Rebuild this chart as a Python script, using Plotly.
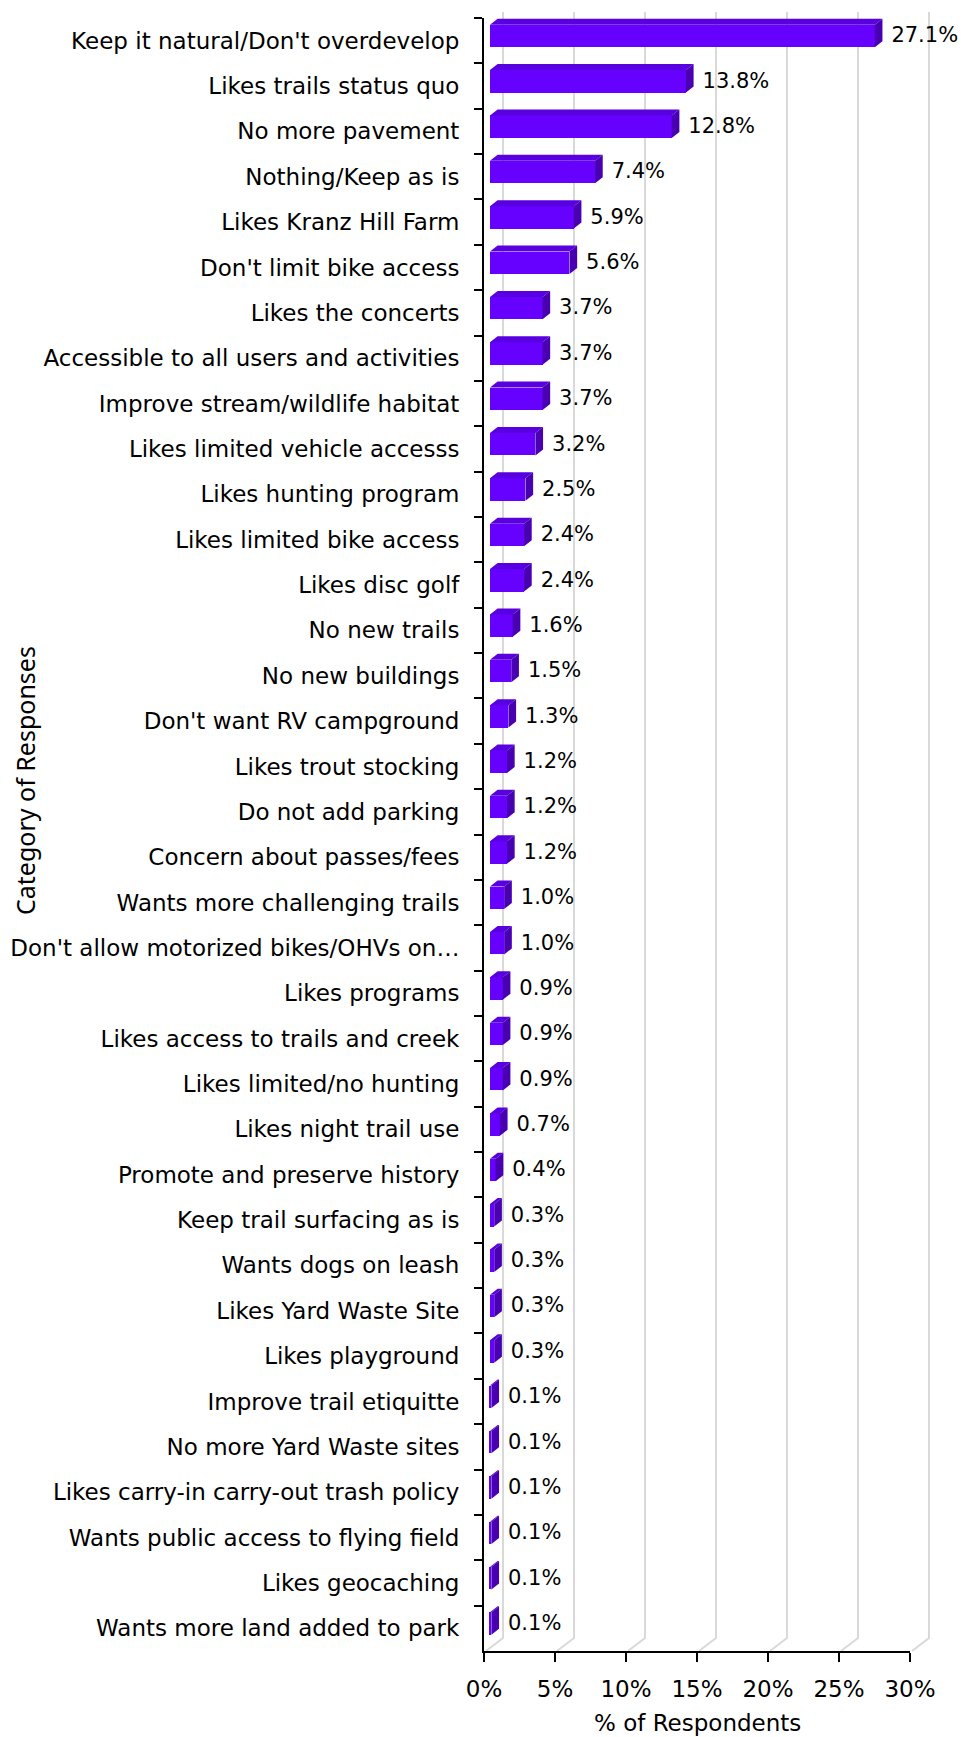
import plotly.graph_objects as go

categories = [
    "Keep it natural/Don't overdevelop", "Likes trails status quo", "No more pavement",
    "Nothing/Keep as is", "Likes Kranz Hill Farm", "Don't limit bike access",
    "Likes the concerts", "Accessible to all users and activities",
    "Improve stream/wildlife habitat", "Likes limited vehicle accesss",
    "Likes hunting program", "Likes limited bike access", "Likes disc golf",
    "No new trails", "No new buildings", "Don't want RV campground",
    "Likes trout stocking", "Do not add parking", "Concern about passes/fees",
    "Wants more challenging trails", "Don't allow motorized bikes/OHVs on…",
    "Likes programs", "Likes access to trails and creek", "Likes limited/no hunting",
    "Likes night trail use", "Promote and preserve history", "Keep trail surfacing as is",
    "Wants dogs on leash", "Likes Yard Waste Site", "Likes playground",
    "Improve trail etiquitte", "No more Yard Waste sites",
    "Likes carry-in carry-out trash policy", "Wants public access to flying field",
    "Likes geocaching", "Wants more land added to park",
]
values = [27.1, 13.8, 12.8, 7.4, 5.9, 5.6, 3.7, 3.7, 3.7, 3.2, 2.5, 2.4, 2.4, 1.6, 1.5,
          1.3, 1.2, 1.2, 1.2, 1.0, 1.0, 0.9, 0.9, 0.9, 0.7, 0.4, 0.3, 0.3, 0.3, 0.3,
          0.1, 0.1, 0.1, 0.1, 0.1, 0.1]
x_ticks = [0, 5, 10, 15, 20, 25, 30]
x_ticktext = ["0%", "5%", "10%", "15%", "20%", "25%", "30%"]

FONT = "DejaVu Sans"
FRONT = "#6600FF"
TOP = "#5800E0"
SIDE = "#4800B0"

# 3D pseudo-depth parameters (data units)
BASE = 0.42      # bars sit at mid depth
DX = 0.54        # depth shift along x (%)
DY = 0.132       # depth shift along y (category units)
OFF = -0.352     # bar offset inside category
WID = 0.495      # bar thickness

n = len(categories)
idx = list(range(n))

fig = go.Figure()

fig.add_trace(go.Bar(
    y=categories, x=values, base=BASE, orientation="h",
    width=WID, offset=OFF,
    marker=dict(color=FRONT, line=dict(width=0)),
    hoverinfo="skip", showlegend=False,
))

# top and side faces
tx, ty = [], []
sx, sy = [], []
for i, v in zip(idx, values):
    yt = i + OFF
    yb = i + OFF + WID
    tx += [BASE, BASE + DX, BASE + v + DX, BASE + v, BASE, None]
    ty += [yt, yt - DY, yt - DY, yt, yt, None]
    sx += [BASE + v, BASE + v + DX, BASE + v + DX, BASE + v, BASE + v, None]
    sy += [yt, yt - DY, yb - DY, yb, yt, None]

fig.add_trace(go.Scatter(x=tx, y=ty, yaxis="y2", mode="lines", fill="toself",
                         fillcolor=TOP, line=dict(width=0, color=TOP),
                         hoverinfo="skip", showlegend=False))
fig.add_trace(go.Scatter(x=sx, y=sy, yaxis="y2", mode="lines", fill="toself",
                         fillcolor=SIDE, line=dict(width=0, color=SIDE),
                         hoverinfo="skip", showlegend=False))

fig.add_trace(go.Scatter(
    x=[BASE + v + DX + 0.63 for v in values], y=[i - 0.08 for i in idx], yaxis="y2",
    mode="text", text=[f"{v:.1f}%" for v in values], textposition="middle right",
    textfont=dict(family=FONT, size=21, color="#000"), cliponaxis=False,
    hoverinfo="skip", showlegend=False,
))

# 3D back-wall gridlines (paper coords derived from tick values)
PW, PH = 426.0, 1633.0
for t in x_ticks:
    xf = t / 30.0 + 2 / PW
    xb = t / 30.0 + 19 / PW
    fig.add_shape(type="path", xref="paper", yref="paper", layer="below",
                  path=f"M {xf},0 L {xb},{13/PH} L {xb},{1 + 6/PH}",
                  line=dict(color="#d9d9d9", width=2))

fig.update_layout(
    width=963, height=1737,
    margin=dict(l=484, r=53, t=18, b=86, autoexpand=False),
    paper_bgcolor="white", plot_bgcolor="rgba(0,0,0,0)",
    font=dict(family=FONT, color="#000"),
    bargap=0,
    xaxis=dict(range=[0, 30], tickvals=x_ticks, ticktext=x_ticktext,
               showgrid=False, zeroline=False, showline=True, linecolor="#000",
               linewidth=2, ticks="outside", ticklen=9, tickwidth=2, tickcolor="#000",
               tickfont=dict(family=FONT, size=23, color="#000"),
               ticklabelstandoff=7, automargin=False),
    yaxis=dict(type="category", categoryorder="array", categoryarray=categories,
               range=[n - 0.5, -0.5], showgrid=False, zeroline=False,
               showline=True, linecolor="#000", linewidth=2,
               ticks="outside", tickson="boundaries", ticklen=8, tickwidth=2,
               tickcolor="#000", tickfont=dict(family=FONT, size=23, color="#000"),
               ticklabelstandoff=18, automargin=False),
    yaxis2=dict(overlaying="y", range=[n - 0.5, -0.5], visible=False,
                showgrid=False, zeroline=False),
    annotations=[
        dict(text="% of Respondents", xref="paper", yref="paper", x=0.5,
             y=(1651 - 1723) / PH, xanchor="center", yanchor="middle",
             showarrow=False, font=dict(family=FONT, size=23, color="#000")),
        dict(text="Category of Responses", xref="paper", yref="paper",
             x=(25 - 484) / PW, y=(1651 - 781) / PH, xanchor="center",
             yanchor="middle", textangle=-90, showarrow=False,
             font=dict(family="Noto Sans", size=25, color="#000")),
    ],
)

fig.write_html("out.html", config={"displayModeBar": False},
               post_script="document.body.style.margin='0';document.body.style.overflow='hidden';")
